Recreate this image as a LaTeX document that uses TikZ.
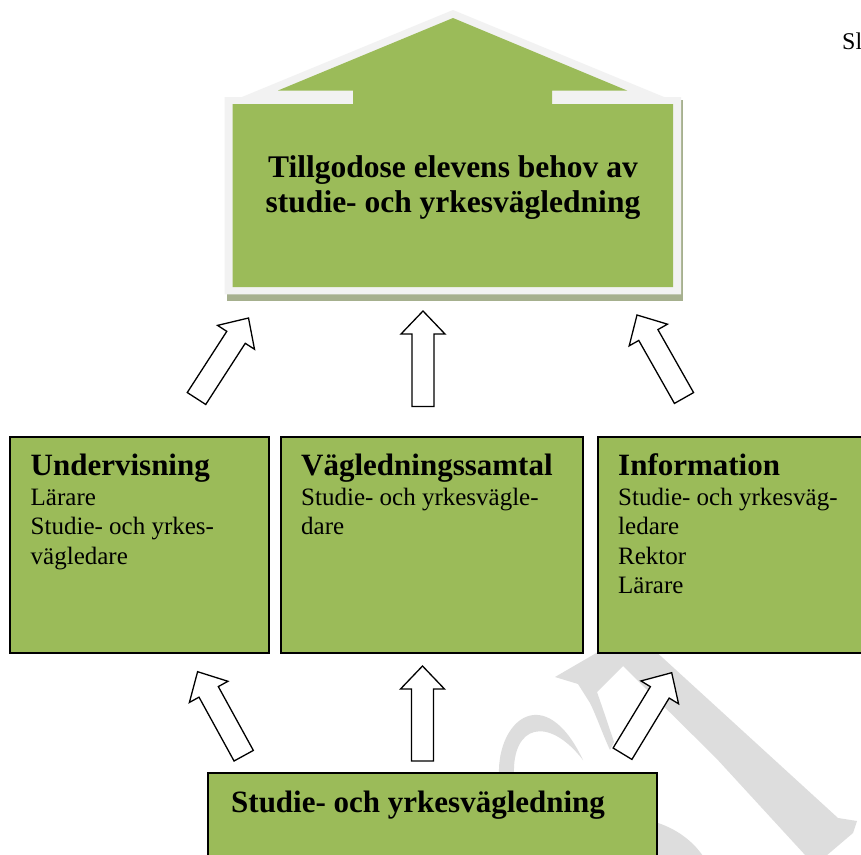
\documentclass[tikz,border=0pt]{standalone}
\usepackage{fontspec}
\setmainfont{Liberation Serif}
\usetikzlibrary{calc}
\definecolor{boxgreen}{RGB}{155,187,89}
\definecolor{framegray}{RGB}{242,242,242}
\definecolor{shadowgray}{RGB}{166,176,142}
\definecolor{wmgray}{RGB}{221,221,221}
\tikzset{
  greenbox/.style={draw=black, line width=2pt, fill=boxgreen, rectangle, inner sep=0pt},
  blockarr/.style={draw=black, line width=1.3pt, fill=white, line join=miter},
  headtxt/.style={anchor=base west, inner sep=0pt, font=\fontsize{31}{36}\selectfont\bfseries},
  bodytxt/.style={anchor=base west, inner sep=0pt, font=\fontsize{25}{29}\selectfont},
  titletxt/.style={anchor=base, inner sep=0pt, font=\fontsize{31.5}{36}\selectfont\bfseries},
  wmark/.style={fill=wmgray, draw=none},
}
\newcommand{\blkarrow}[2]{%
  \path ($(#2)!23pt!(#1)$) coordinate (hb);
  \filldraw[blockarr] ($(#1)!11pt!90:(#2)$) -- ($(hb)!11pt!90:(#2)$) -- ($(hb)!22pt!90:(#2)$) -- (#2)
    -- ($(hb)!22pt!-90:(#2)$) -- ($(hb)!11pt!-90:(#2)$) -- ($(#1)!11pt!-90:(#2)$) -- cycle;
}
\begin{document}
\begin{tikzpicture}[x=1pt,y=-1pt]
\useasboundingbox[fill=white] (0,0) rectangle (861,854);
% watermark
\fill[wmark] (600,648) -- (652,648) -- (838,818) -- (857,821) -- (853,833) -- (826,856) -- (806,856) -- (716,758) -- (623,666) -- (600,660) -- cycle;
\fill[wmark] (555,677) -- (598,652) -- (623,666) -- (597,692) .. controls (604,712) and (610,730) .. (614,742) -- (610,750) .. controls (603,735) and (596,715) .. (590,703) -- (578,684) -- cycle;
\fill[wmark] (499,775) .. controls (497,720) and (545,680) .. (583,760) .. controls (548,715) and (512,725) .. (514,775) -- cycle;
\fill[wmark] (655,822) .. controls (675,828) and (692,840) .. (703,856) -- (655,856) -- cycle;
% house
\fill[shadowgray] (227,100) rectangle (683.3,300.7);
\fill[framegray] (453,10) -- (664,97) -- (681,97) -- (681,294.3) -- (224.5,294.3) -- (224.5,97) -- (242,97) -- cycle;
\fill[boxgreen] (453,18) -- (627,90.5) -- (552,90.5) -- (552,104) -- (673,104) -- (673,287) -- (232.5,287) -- (232.5,104) -- (353,104) -- (353,90.5) -- (278,90.5) -- cycle;
\node[titletxt] (title1) at (453,177) {Tillgodose elevens behov av};
\node[titletxt] (title2) at (453,212) {studie- och yrkesvägledning};
% middle boxes
\node[greenbox, minimum width=259pt, minimum height=216pt] (b1) at (139.5,545) {};
\node[greenbox, minimum width=302pt, minimum height=216pt] (b2) at (432,545) {};
\node[greenbox, minimum width=282.5pt, minimum height=216pt] (b3) at (738.75,545) {};
\node[greenbox, minimum width=449pt, minimum height=107pt] (b4) at (432.5,826.5) {};
% texts
\node[headtxt] (h1) at (30.5,475) {Undervisning};
\node[bodytxt] (b1l1) at (30.5,505) {Lärare};
\node[bodytxt] (b1l2) at (30.5,534.5) {Studie- och yrkes-};
\node[bodytxt] (b1l3) at (30.5,564) {vägledare};
\node[headtxt] (h2) at (301,475) {Vägledningssamtal};
\node[bodytxt] (b2l1) at (301,505) {Studie- och yrkesvägle-};
\node[bodytxt] (b2l2) at (301,534.5) {dare};
\node[headtxt] (h3) at (618,475) {Information};
\node[bodytxt] (b3l1) at (618,505) {Studie- och yrkesväg-};
\node[bodytxt] (b3l2) at (618,534.5) {ledare};
\node[bodytxt] (b3l3) at (618,564) {Rektor};
\node[bodytxt] (b3l4) at (618,593.5) {Lärare};
\node[headtxt] (h4) at (231,812) {Studie- och yrkesvägledning};
\node[anchor=base west, inner sep=0pt, font=\fontsize{24}{29}\selectfont] (sl) at (842,49) {Sl};
% arrows
\coordinate (u1s) at (196.5,398.5); \coordinate (u1e) at (248.5,318);
\coordinate (u2s) at (423,406.5);   \coordinate (u2e) at (423,311);
\coordinate (u3s) at (684,398);     \coordinate (u3e) at (637,315);
\coordinate (d1s) at (243.7,755.7); \coordinate (d1e) at (197.6,671.7);
\coordinate (d2s) at (422.5,761);   \coordinate (d2e) at (422.5,666);
\coordinate (d3s) at (622.5,753.7); \coordinate (d3e) at (671.7,672.7);
\blkarrow{u1s}{u1e}
\blkarrow{u2s}{u2e}
\blkarrow{u3s}{u3e}
\blkarrow{d1s}{d1e}
\blkarrow{d2s}{d2e}
\blkarrow{d3s}{d3e}
\end{tikzpicture}
\end{document}
